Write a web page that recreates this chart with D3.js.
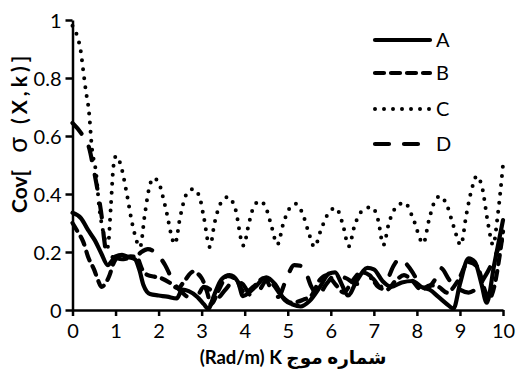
<!DOCTYPE html>
<html>
<head>
<meta charset="utf-8">
<script src="https://cdn.jsdelivr.net/npm/d3@7"></script>
<style>
  html, body { margin: 0; padding: 0; background: #fff; }
  svg { display: block; }
  text { font-family: Lato, "DejaVu Sans", sans-serif; fill: #000; }
</style>
</head>
<body>
<svg id="chart" width="517" height="369"></svg>
<script>
// ---- data ----
const seriesNames = ["A", "B", "C", "D"];
const xTicks = [0, 1, 2, 3, 4, 5, 6, 7, 8, 9, 10];
const yTicks = [0, 0.2, 0.4, 0.6, 0.8, 1];
const xLabel = "(Rad/m) K شماره موج";
const yLabelParts = ["Cov[", "σ", "(X,k)]"];

const kA = [0,0.2,0.36,0.52,0.67,0.82,0.92,1.0,1.15,1.3,1.45,1.55,1.65,1.8,2.0,2.2,2.42,2.55,2.7,2.9,3.05,3.15,3.3,3.46,3.65,3.84,3.96,4.1,4.25,4.5,4.7,4.93,5.1,5.3,5.5,5.75,5.95,6.1,6.25,6.4,6.6,6.85,7.0,7.2,7.4,7.65,7.9,8.1,8.3,8.5,8.7,8.85,9.0,9.2,9.35,9.5,9.62,9.8,10];
const valA = [0.335,0.316,0.276,0.24,0.195,0.155,0.17,0.185,0.19,0.182,0.175,0.14,0.085,0.055,0.05,0.046,0.04,0.07,0.065,0.045,0.02,0.004,0.055,0.105,0.12,0.098,0.048,0.06,0.08,0.113,0.09,0.034,0.02,0.012,0.03,0.08,0.125,0.13,0.09,0.05,0.1,0.145,0.14,0.1,0.08,0.095,0.1,0.08,0.07,0.045,0.02,0.005,0.09,0.178,0.165,0.09,0.025,0.16,0.31];

const kB = [0,0.12,0.25,0.37,0.5,0.6,0.67,0.75,0.86,0.95,1.05,1.2,1.35,1.5,1.62,1.75,1.9,2.05,2.25,2.45,2.6,2.8,3.0,3.12,3.22,3.4,3.6,3.8,4.0,4.2,4.45,4.65,4.85,5.1,5.35,5.55,5.75,5.9,6.1,6.3,6.5,6.7,6.9,7.1,7.3,7.5,7.7,7.9,8.1,8.3,8.5,8.7,8.95,9.2,9.4,9.6,9.68,10];
const valB = [0.3,0.27,0.235,0.18,0.14,0.1,0.08,0.088,0.12,0.16,0.18,0.178,0.185,0.18,0.14,0.12,0.115,0.11,0.095,0.075,0.1,0.132,0.11,0.065,0.02,0.07,0.118,0.105,0.06,0.08,0.11,0.09,0.05,0.025,0.035,0.05,0.105,0.12,0.09,0.06,0.1,0.13,0.12,0.08,0.07,0.1,0.12,0.1,0.07,0.085,0.08,0.06,0.1,0.165,0.15,0.06,0.04,0.27];

const kC = [0,0.06,0.14,0.19,0.25,0.31,0.38,0.45,0.55,0.62,0.69,0.76,0.82,0.89,0.95,1.01,1.12,1.25,1.4,1.57,1.68,1.78,1.88,2.0,2.15,2.38,2.5,2.65,2.81,2.95,3.05,3.19,3.3,3.45,3.62,3.78,3.97,4.1,4.22,4.36,4.5,4.62,4.76,4.9,5.05,5.19,5.35,5.48,5.62,5.78,5.95,6.12,6.27,6.42,6.55,6.75,6.95,7.1,7.22,7.35,7.55,7.72,7.9,8.15,8.28,8.4,8.54,8.7,8.85,9.02,9.15,9.28,9.39,9.52,9.65,9.77,9.88,10];
const valC = [0.98,0.963,0.93,0.894,0.825,0.756,0.687,0.56,0.47,0.356,0.287,0.24,0.218,0.356,0.494,0.531,0.5,0.41,0.29,0.217,0.33,0.42,0.455,0.44,0.36,0.228,0.32,0.4,0.417,0.39,0.32,0.217,0.3,0.37,0.39,0.35,0.222,0.3,0.36,0.376,0.35,0.29,0.226,0.3,0.352,0.366,0.33,0.27,0.218,0.28,0.335,0.352,0.3,0.22,0.29,0.345,0.355,0.31,0.224,0.3,0.36,0.37,0.32,0.23,0.31,0.37,0.393,0.36,0.29,0.224,0.33,0.42,0.462,0.42,0.3,0.224,0.33,0.5];

const kD = [0,0.2,0.39,0.48,0.55,0.62,0.68,0.73,0.8,1.0,1.15,1.3,1.45,1.6,1.75,1.95,2.15,2.3,2.42,2.55,2.7,2.9,3.05,3.2,3.35,3.55,3.75,3.95,4.15,4.35,4.5,4.65,4.78,4.95,5.15,5.35,5.55,5.7,5.9,6.1,6.35,6.6,6.8,6.95,7.15,7.3,7.45,7.6,7.75,7.9,8.0,8.2,8.4,8.55,8.77,9.0,9.2,9.35,9.6,10];
const valD = [0.645,0.61,0.557,0.494,0.44,0.38,0.32,0.25,0.19,0.18,0.175,0.178,0.18,0.2,0.21,0.195,0.155,0.11,0.08,0.06,0.045,0.05,0.08,0.07,0.04,0.07,0.1,0.09,0.05,0.07,0.1,0.06,0.045,0.1,0.155,0.15,0.08,0.05,0.09,0.12,0.11,0.09,0.1,0.11,0.08,0.1,0.15,0.177,0.16,0.13,0.105,0.075,0.1,0.145,0.1,0.07,0.06,0.07,0.12,0.25];

// ---- layout ----
const svg = d3.select("#chart");
svg.append("rect").attr("width", 517).attr("height", 369).attr("fill", "#fff");

const x = d3.scaleLinear().domain([0, 10]).range([72.5, 503]);
const y = d3.scaleLinear().domain([0, 1]).range([310, 20]);

const styles = {
  A: { dash: null, width: 4.2, cap: "round" },
  B: { dash: "9 7", width: 4.2, cap: "round" },
  C: { dash: "0 9", width: 4, cap: "round" },
  D: { dash: "14 15", width: 4.2, cap: "round" }
};

const series = [
  { name: "C", k: kC, v: valC },
  { name: "D", k: kD, v: valD },
  { name: "B", k: kB, v: valB },
  { name: "A", k: kA, v: valA }
];

const line = d3.line().x(d => x(d[0])).y(d => y(d[1])).curve(d3.curveMonotoneX);

series.forEach(s => {
  const st = styles[s.name];
  svg.append("path")
    .datum(s.k.map((k, i) => [k, s.v[i]]))
    .attr("fill", "none")
    .attr("stroke", "#000")
    .attr("stroke-width", st.width)
    .attr("stroke-linecap", st.cap)
    .attr("stroke-linejoin", "round")
    .attr("stroke-dasharray", st.dash)
    .attr("d", line);
});

// ---- axes ----
const yAxis = svg.append("g").attr("transform", `translate(${x(0)},0)`)
  .call(d3.axisLeft(y).tickValues(yTicks).tickFormat(d => String(d)).tickSize(7).tickSizeOuter(0).tickPadding(4));
const xAxis = svg.append("g").attr("transform", `translate(0,${y(0)})`)
  .call(d3.axisBottom(x).tickValues(xTicks).tickFormat(d => String(d)).tickSize(6).tickSizeOuter(0).tickPadding(8));

[yAxis, xAxis].forEach(g => {
  g.selectAll("path.domain").attr("stroke", "#000").attr("stroke-width", 2.5);
  g.selectAll(".tick line").attr("stroke", "#000").attr("stroke-width", 2.5);
  g.selectAll(".tick text").attr("font-family", "Lato, 'DejaVu Sans', sans-serif")
    .attr("font-size", 20).attr("fill", "#000");
});
yAxis.selectAll(".tick text").attr("dy", "0.36em");

// axis titles
svg.append("text")
  .attr("x", 293).attr("y", 364)
  .attr("text-anchor", "middle")
  .attr("font-size", 18.5).attr("font-weight", "bold")
  .text(xLabel);

svg.append("text")
  .attr("transform", "translate(27,213) rotate(-90)")
  .attr("text-anchor", "start")
  .attr("font-size", 21).attr("font-weight", "bold")
  .text(yLabelParts[0]);
svg.append("text")
  .attr("transform", "translate(27,145) rotate(-90)")
  .attr("text-anchor", "middle")
  .attr("font-size", 26)
  .text(yLabelParts[1]);
svg.append("text")
  .attr("transform", "translate(27,124) rotate(-90)")
  .attr("text-anchor", "start")
  .attr("font-size", 21).attr("font-weight", "bold")
  .attr("letter-spacing", 4)
  .text(yLabelParts[2]);

// ---- legend ----
const legendY = { A: 40, B: 73, C: 109, D: 144 };
seriesNames.forEach(n => {
  const st = styles[n];
  svg.append("line")
    .attr("x1", 375).attr("x2", 430)
    .attr("y1", legendY[n]).attr("y2", legendY[n])
    .attr("stroke", "#000").attr("stroke-width", st.width)
    .attr("stroke-linecap", st.cap)
    .attr("stroke-dasharray", st.dash);
  svg.append("text")
    .attr("x", 436).attr("y", legendY[n] + 7)
    .attr("font-size", 20)
    .text(n);
});
</script>
</body>
</html>
